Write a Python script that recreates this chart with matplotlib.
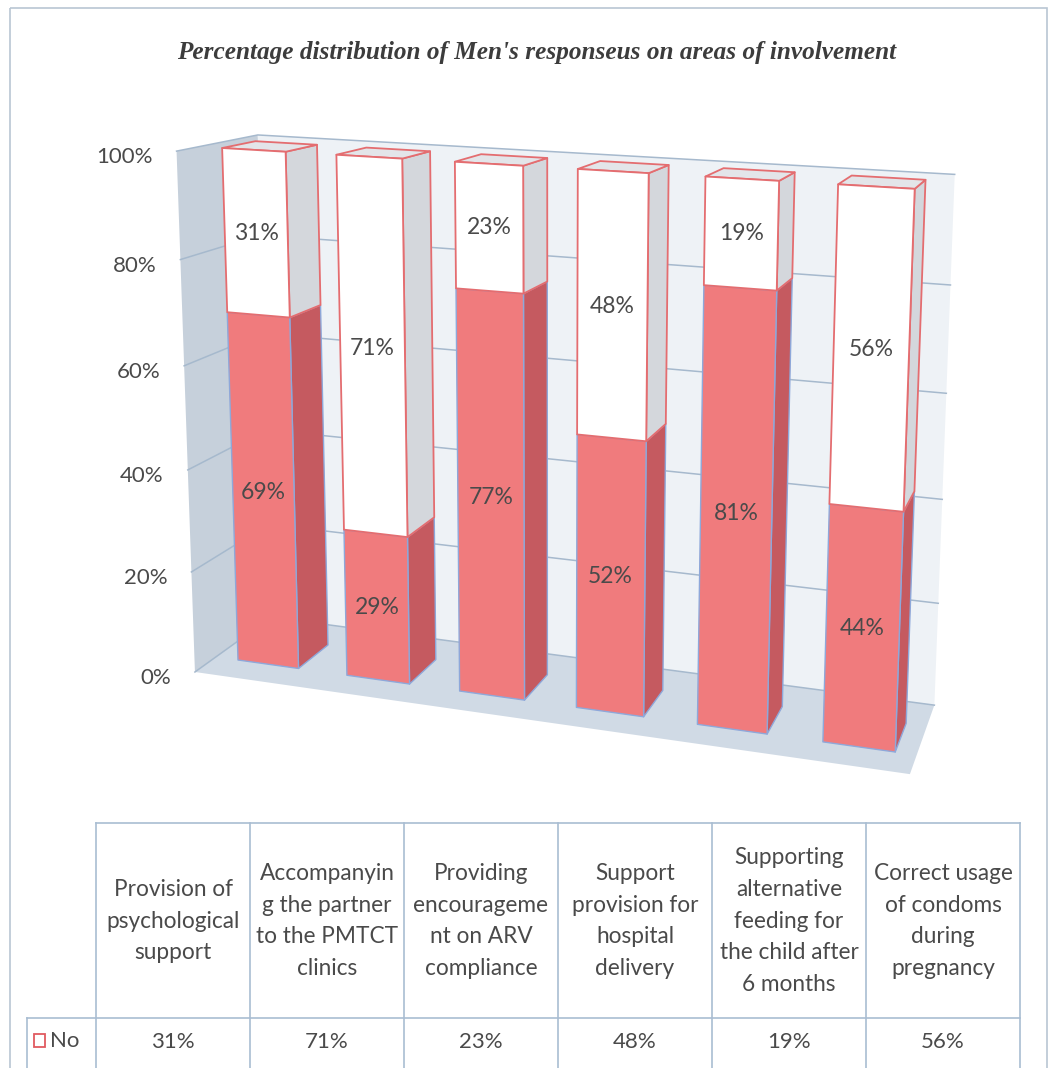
import numpy as np
import matplotlib
matplotlib.use("Agg")
import matplotlib.pyplot as plt
from matplotlib.patches import Polygon, Rectangle

# ---------------- data ----------------
categories = [
    "Provision of\npsychological\nsupport",
    "Accompanyin\ng the partner\nto the PMTCT\nclinics",
    "Providing\nencourageme\nnt on ARV\ncompliance",
    "Support\nprovision for\nhospital\ndelivery",
    "Supporting\nalternative\nfeeding for\nthe child after\n6 months",
    "Correct usage\nof condoms\nduring\npregnancy",
]
yes_pct = [69, 29, 77, 52, 81, 44]
no_pct = [31, 71, 23, 48, 19, 56]
y_ticks = [0, 20, 40, 60, 80, 100]
table_series = "No"
title = "Percentage distribution of Men's responseus on areas of involvement"

# ---------------- perspective camera (Excel-like 3D view) ----------------
VX = np.array([-6070.0, -223.0, 1.0])   # vanishing point of category axis
VY = np.array([1203.0, -53.0, 1.0])     # vanishing point of depth axis
VZ = np.array([550.0, 10735.0, 1.0])    # vanishing point of value axis
ORIG = np.array([238.0, 660.0, 1.0])
LX, LY, LZ = -0.016971, 0.03337, -0.04836
PM = np.column_stack([LX * VX, LY * VY, LZ * VZ, ORIG])


def proj(x, y, z):
    h = PM @ np.array([x, y, z, 1.0])
    return (h[0] / h[2], h[1] / h[2])


BW = 0.56          # bar width (in category slots)
BD = 1.0           # bar depth
XL, XR = -0.207, 5.724
YF, YB = -0.626, 1.78
VMAX = 100.0

fig = plt.figure(figsize=(10.56, 10.68), dpi=100)
ax = fig.add_axes([0, 0, 1, 1])
ax.set_xlim(0, 1056)
ax.set_ylim(1068, 0)
ax.axis("off")

label_font = ["Lato", "DejaVu Sans"]
txt_col = "#4a4a4a"


def face(pts, fc, ec="none", lw=0.0, z=1):
    poly = Polygon([proj(*p) for p in pts], closed=True, facecolor=fc,
                   edgecolor=ec, linewidth=lw, zorder=z, joinstyle="round")
    ax.add_patch(poly)


# walls and floor
face([(XL, YF, 0), (XL, YB, 0), (XL, YB, 1), (XL, YF, 1)], "#c6d0db", z=1)
face([(XL, YB, 0), (XR, YB, 0), (XR, YB, 1), (XL, YB, 1)], "#eef2f6", z=1)
face([(XL, YF, 0), (XR, YF, 0), (XR, YB, 0), (XL, YB, 0)], "#d0dae5", z=1)

# gridlines on walls
for t in y_ticks:
    z = t / VMAX
    p = [proj(XL, YF, z), proj(XL, YB, z), proj(XR, YB, z)]
    ax.plot([q[0] for q in p], [q[1] for q in p], color="#a6b9cd", lw=1.1, zorder=2)

# y tick labels along the left wall's front edge
for t in y_ticks:
    x, y = proj(XL, YF, t / VMAX)
    ax.text(x - 24, y + 6, f"{t}%", ha="right", va="center", fontsize=16,
            color=txt_col, family=label_font, zorder=5)

# bars
for i, (yv, nv) in enumerate(zip(yes_pct, no_pct)):
    x0, x1 = i, i + BW
    segs = [(0.0, yv / VMAX, "#f07b7d", "#c55a60", "#8ea8da", 1.0),
            (yv / VMAX, (yv + nv) / VMAX, "#ffffff", "#d4d7dc", "#e46d70", 1.3)]
    for k, (za, zb, fc, sc, ec, lw) in enumerate(segs):
        face([(x1, 0, za), (x1, BD, za), (x1, BD, zb), (x1, 0, zb)], sc, ec, lw, z=3)
        if k == len(segs) - 1:
            face([(x0, 0, zb), (x1, 0, zb), (x1, BD, zb), (x0, BD, zb)], "#e3e5e9", ec, lw, z=3)
        face([(x0, 0, za), (x1, 0, za), (x1, 0, zb), (x0, 0, zb)], fc, ec, lw, z=4)
    for za, zb, val in [(0.0, yv / VMAX, yv), (yv / VMAX, (yv + nv) / VMAX, nv)]:
        cx, cy = proj(x0 + BW / 2, 0, (za + zb) / 2)
        ax.text(cx, cy, f"{val}%", ha="center", va="center", fontsize=16.5,
                color=txt_col, family=label_font, zorder=6)

# title
ax.text(537, 52, title, ha="center", va="center", fontsize=18.2, fontweight="bold",
        fontstyle="italic", family=["Liberation Serif", "DejaVu Serif"], color="#3c3c3c")

# data table
grid_col = "#a9bdd2"
t_left, t_right, t_top, t_hdr, t_bot = 96, 1020, 823, 1018, 1080
leg_left = 27
colw = (t_right - t_left) / len(categories)
ax.plot([t_left, t_right], [t_top, t_top], color=grid_col, lw=1.2)
ax.plot([leg_left, t_right], [t_hdr, t_hdr], color=grid_col, lw=1.2)
ax.plot([leg_left, leg_left], [t_hdr, t_bot], color=grid_col, lw=1.2)
for j in range(len(categories) + 1):
    xx = t_left + j * colw
    ax.plot([xx, xx], [t_top, t_bot], color=grid_col, lw=1.2)
for j, (cat, val) in enumerate(zip(categories, no_pct)):
    cx = t_left + (j + 0.5) * colw
    ax.text(cx, 921, cat, ha="center", va="center", fontsize=16.3, color=txt_col,
            family=label_font, linespacing=1.62)
    ax.text(cx, 1042, f"{val}%", ha="center", va="center", fontsize=16,
            color=txt_col, family=label_font)
ax.add_patch(Rectangle((34, 1034), 11, 13, facecolor="white", edgecolor="#e05a60", lw=1.3))
ax.text(50, 1041, table_series, ha="left", va="center", fontsize=16, color=txt_col,
        family=label_font)

# outer chart frame
ax.add_patch(Rectangle((10, 8), 1037, 1080, facecolor="none", edgecolor="#b9c6d3", lw=1.2))

fig.savefig("out.png", dpi=100)
